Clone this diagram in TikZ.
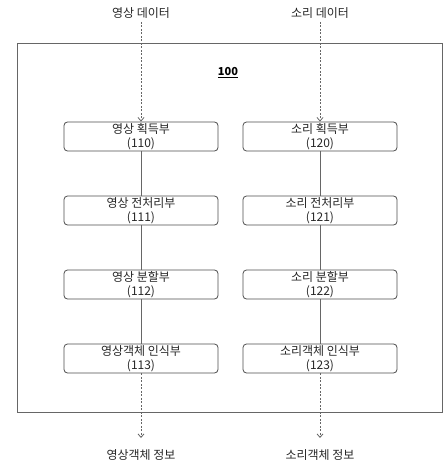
\documentclass[tikz,border=0pt]{standalone}
\usepackage{fontspec}
\setmainfont{Noto Sans CJK KR}
\usetikzlibrary{arrows.meta,positioning}

\tikzset{
  unitbox/.style={draw=black!70, line width=0.8pt, rounded corners=3.5pt, minimum width=154pt,
    minimum height=29pt, inner sep=0pt, align=center, font=\fontsize{12}{14.5}\selectfont, text=black!85},
  link/.style={draw=black!60, line width=0.8pt},
  dataflow/.style={draw=black!60, dashed, dash pattern=on 2pt off 1.5pt, line width=0.8pt,
    -{Straight Barb[length=3.5pt,width=6pt]}},
  iolabel/.style={font=\fontsize{12}{14}\selectfont, text=black!85}
}

\begin{document}
\begin{tikzpicture}[x=1pt,y=-1pt]
\useasboundingbox (0,0) rectangle (447,465);

% outer block
\draw[black!60, line width=0.8pt] (17,43) rectangle (442,412);
\node[font=\fontsize{11}{13}\selectfont\bfseries] (num) at (228,73) {\underline{100}};

% inputs
\node[iolabel] (vin) at (141,13) {영상 데이터};
\node[iolabel] (ain) at (320,13) {소리 데이터};

% image units
\node[unitbox] (v0) at (141,136.5) {영상 획득부\\(110)};
\node[unitbox] (v1) at (141,210.5) {영상 전처리부\\(111)};
\node[unitbox] (v2) at (141,284.5) {영상 분할부\\(112)};
\node[unitbox] (v3) at (141,358.5) {영상객체 인식부\\(113)};

% sound units
\node[unitbox] (a0) at (320,136.5) {소리 획득부\\(120)};
\node[unitbox] (a1) at (320,210.5) {소리 전처리부\\(121)};
\node[unitbox] (a2) at (320,284.5) {소리 분할부\\(122)};
\node[unitbox] (a3) at (320,358.5) {소리객체 인식부\\(123)};

% outputs
\node[iolabel] (vout) at (141,455) {영상객체 정보};
\node[iolabel] (aout) at (320,455) {소리객체 정보};
\coordinate (vend) at (141,438);
\coordinate (aend) at (320,438);

\draw[link] (v0)--(v1)--(v2)--(v3);
\draw[link] (a0)--(a1)--(a2)--(a3);
\draw[dataflow] (vin)--(v0);
\draw[dataflow] (ain)--(a0);
\draw[dataflow] (v3)--(vend);
\draw[dataflow] (a3)--(aend);
\end{tikzpicture}
\end{document}
